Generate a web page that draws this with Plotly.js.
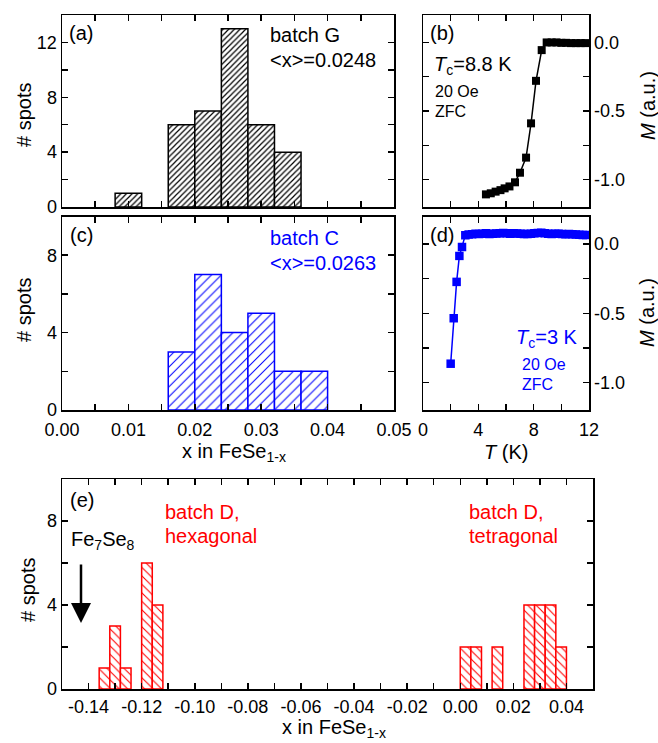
<!DOCTYPE html>
<html>
<head>
<meta charset="utf-8">
<script src="https://cdn.plot.ly/plotly-3.0.1.min.js"></script>
<style>html,body{margin:0;padding:0;background:#fff;}#chart{width:658px;height:743px;}</style>
</head>
<body>
<div id="chart"></div>
<script>
// ---------- data ----------
// (a) batch G histogram: bin starts (x in FeSe1-x) and counts
const binWidth = 0.004;
const gBinStart = [0.008, 0.016, 0.020, 0.024, 0.028, 0.032];
const gCounts   = [1, 6, 7, 13, 6, 4];
// (c) batch C histogram
const cBinStart = [0.016, 0.020, 0.024, 0.028, 0.032, 0.036];
const cCounts   = [3, 7, 4, 5, 2, 2];
// (e) batch D histograms
const hexBinStart = [-0.136, -0.132, -0.128, -0.120, -0.116];
const hexCounts   = [1, 3, 1, 6, 4];
const tetBinStart = [0.000, 0.004, 0.012, 0.024, 0.028, 0.032, 0.036];
const tetCounts   = [2, 2, 2, 4, 4, 4, 2];
// (b) batch G magnetization, T (K) and M (a.u.)
const gT = [4.55, 4.9, 5.25, 5.6, 5.9, 6.25, 6.65, 7.01, 7.45, 7.81, 8.17, 8.58, 8.94, 9.3, 9.65, 10.0, 10.35, 10.7, 11.05, 11.4, 11.75];
const gM = [-1.108, -1.10, -1.088, -1.077, -1.064, -1.05, -1.02, -0.95, -0.84, -0.59, -0.28, -0.056, 0.0, 0.0, 0.0, -0.003, -0.003, -0.005, -0.005, -0.005, -0.005];
// (d) batch C magnetization
const cT = [2.0, 2.22, 2.43, 2.63, 2.82, 3.06, 3.3, 3.55, 3.8, 4.05, 4.3, 4.55, 4.8, 5.05, 5.3, 5.55, 5.8, 6.05, 6.3, 6.55, 6.8, 7.05, 7.3, 7.55, 7.8, 8.05, 8.3, 8.55, 8.8, 9.05, 9.3, 9.55, 9.8, 10.05, 10.3, 10.55, 10.8, 11.05, 11.3, 11.55, 11.8];
const cM = [-0.865, -0.536, -0.273, -0.085, -0.02, 0.065, 0.07, 0.072, 0.075, 0.073, 0.076, 0.078, 0.074, 0.075, 0.077, 0.079, 0.08, 0.078, 0.076, 0.079, 0.077, 0.075, 0.073, 0.074, 0.076, 0.078, 0.08, 0.082, 0.078, 0.075, 0.074, 0.076, 0.075, 0.073, 0.072, 0.074, 0.071, 0.07, 0.068, 0.067, 0.066];
// tick labels
const mTickVals = [-1.0, -0.5, 0.0];
const mTickText = ['-1.0', '-0.5', '0.0'];
const eTickVals = [-0.14, -0.12, -0.10, -0.08, -0.06, -0.04, -0.02, 0.00, 0.02, 0.04];
const eTickText = ['-0.14', '-0.12', '-0.10', '-0.08', '-0.06', '-0.04', '-0.02', '0.00', '0.02', '0.04'];

// ---------- layout helpers ----------
const W = 658, H = 743;
const FONT = 'Liberation Sans, Arial, Helvetica, sans-serif';
const px = v => v / W;
const py = v => 1 - v / H;

function axis(extra) {
  return Object.assign({
    showline: true, linecolor: 'black', linewidth: 1.5, mirror: 'ticks',
    ticks: 'inside', ticklen: 6, tickwidth: 1.5, tickcolor: 'black',
    showgrid: false, zeroline: false, fixedrange: true,
    tickfont: {family: FONT, size: 18, color: 'black'}
  }, extra);
}
function minor(d) {
  return {ticks: 'inside', ticklen: 6, tickwidth: 1.5, tickcolor: 'black', dtick: d, showgrid: false};
}
function barTrace(xs, ys, color, shape, size, sol, xa, ya) {
  return {
    type: 'bar', x: xs, y: ys, width: binWidth, offset: 0,
    xaxis: xa, yaxis: ya, hoverinfo: 'none', showlegend: false,
    marker: {
      color: 'white',
      line: {color: color, width: 1.5},
      pattern: {shape: shape, fgcolor: color, bgcolor: 'white', size: size, solidity: sol}
    }
  };
}

const traces = [
  barTrace(gBinStart, gCounts, 'black', '/', 4, 0.3, 'x', 'y'),
  {type: 'scatter', mode: 'lines+markers', x: gT, y: gM, xaxis: 'x2', yaxis: 'y2', showlegend: false,
   line: {color: 'black', width: 1.5}, marker: {symbol: 'square', size: 8, color: 'black'}},
  barTrace(cBinStart, cCounts, '#0000ff', '/', 7, 0.15, 'x3', 'y3'),
  {type: 'scatter', mode: 'lines+markers', x: cT, y: cM, xaxis: 'x4', yaxis: 'y4', showlegend: false,
   line: {color: '#0000ff', width: 1.5}, marker: {symbol: 'square', size: 8.5, color: '#0000ff'}},
  barTrace(hexBinStart, hexCounts, '#ff0000', '\\', 6, 0.18, 'x5', 'y5'),
  barTrace(tetBinStart, tetCounts, '#ff0000', '\\', 6, 0.18, 'x5', 'y5')
];

const xLeft = [px(62), px(394)], xRight = [px(423), px(589)];
const yTop = [py(207), py(15)], yMid = [py(410), py(216.5)];

function ann(text, x, y, opts) {
  return Object.assign({text: text, x: px(x), y: py(y), xref: 'paper', yref: 'paper',
    showarrow: false, xanchor: 'left', yanchor: 'middle',
    font: {family: FONT, size: 20, color: 'black'}}, opts || {});
}
const blue = '#0000ff', red = '#ff0000';
const annotations = [
  ann('(a)', 67, 33),
  ann('batch G', 268, 35),
  ann('&lt;x&gt;=0.0248', 268, 60),
  ann('(b)', 428, 33),
  ann('<i>T</i><sub>c</sub>=8.8 K', 432, 65),
  ann('20 Oe', 433, 92, {font: {family: FONT, size: 16, color: 'black'}}),
  ann('ZFC', 433, 112, {font: {family: FONT, size: 16, color: 'black'}}),
  ann('(c)', 68, 235),
  ann('batch C', 268, 238, {font: {family: FONT, size: 20, color: blue}}),
  ann('&lt;x&gt;=0.0263', 268, 263, {font: {family: FONT, size: 20, color: blue}}),
  ann('(d)', 428, 235),
  ann('<i>T</i><sub>c</sub>=3 K', 580, 338, {xanchor: 'right', font: {family: FONT, size: 20, color: blue}}),
  ann('20 Oe', 520, 364, {font: {family: FONT, size: 16, color: blue}}),
  ann('ZFC', 520, 384, {font: {family: FONT, size: 16, color: blue}}),
  ann('(e)', 68, 500),
  ann('Fe<sub>7</sub>Se<sub>8</sub>', 69, 540),
  ann('batch D,', 163, 512, {font: {family: FONT, size: 20, color: red}}),
  ann('hexagonal', 163, 536, {font: {family: FONT, size: 20, color: red}}),
  ann('batch D,', 467, 512, {font: {family: FONT, size: 20, color: red}}),
  ann('tetragonal', 467, 536, {font: {family: FONT, size: 20, color: red}}),
  // axis titles
  ann('# spots', 24, 115, {xanchor: 'center', textangle: -90}),
  ann('# spots', 24, 310, {xanchor: 'center', textangle: -90}),
  ann('# spots', 28, 590, {xanchor: 'center', textangle: -90}),
  ann('<i>M</i> (a.u.)', 648, 106, {xanchor: 'center', textangle: -90}),
  ann('<i>M</i> (a.u.)', 647, 313, {xanchor: 'center', textangle: -90}),
  ann('x in FeSe<sub>1-x</sub>', 234, 452, {xanchor: 'center'}),
  ann('<i>T</i> (K)', 506, 452, {xanchor: 'center'}),
  ann('x in FeSe<sub>1-x</sub>', 334, 742.5, {xanchor: 'center', yanchor: 'bottom'}),
  // Fe7Se8 arrow
  {x: px(81), y: py(623), xref: 'paper', yref: 'paper', ax: 0, ay: -60, text: '',
   showarrow: true, arrowhead: 2, arrowsize: 1.6, arrowwidth: 2.5, arrowcolor: 'black'}
];

const layout = {
  width: W, height: H, margin: {l: 0, r: 0, t: 0, b: 0},
  paper_bgcolor: 'white', plot_bgcolor: 'white', showlegend: false,
  font: {family: FONT, color: 'black'},
  xaxis: axis({domain: xLeft, anchor: 'y', range: [0, 0.05], dtick: 0.01, minor: minor(0.005), showticklabels: false}),
  yaxis: axis({domain: yTop, anchor: 'x', range: [0, 14], dtick: 4, minor: minor(2)}),
  xaxis2: axis({domain: xRight, anchor: 'y2', range: [0, 12], dtick: 4, minor: minor(2), showticklabels: false}),
  yaxis2: axis({domain: yTop, anchor: 'x2', side: 'right', range: [-1.2, 0.2], tickmode: 'array', tickvals: mTickVals, ticktext: mTickText, minor: minor(0.25)}),
  xaxis3: axis({domain: xLeft, anchor: 'y3', range: [0, 0.05], dtick: 0.01, tickformat: '.2f', minor: minor(0.005), ticklabelstandoff: 3}),
  yaxis3: axis({domain: yMid, anchor: 'x3', range: [0, 10], dtick: 4, minor: minor(2)}),
  xaxis4: axis({domain: xRight, anchor: 'y4', range: [0, 12], dtick: 4, minor: minor(2), ticklabelstandoff: 3}),
  yaxis4: axis({domain: yMid, anchor: 'x4', side: 'right', range: [-1.2, 0.2], tickmode: 'array', tickvals: mTickVals, ticktext: mTickText, minor: minor(0.25)}),
  xaxis5: axis({domain: [px(62), px(593)], anchor: 'y5', range: [-0.15, 0.05], tickmode: 'array', tickvals: eTickVals, ticktext: eTickText, minor: minor(0.01), ticklabelstandoff: 1}),
  yaxis5: axis({domain: [py(689), py(479)], anchor: 'x5', range: [0, 10], dtick: 4, minor: minor(2)}),
  annotations: annotations
};

Plotly.newPlot('chart', traces, layout, {staticPlot: true, displayModeBar: false});
</script>
</body>
</html>
